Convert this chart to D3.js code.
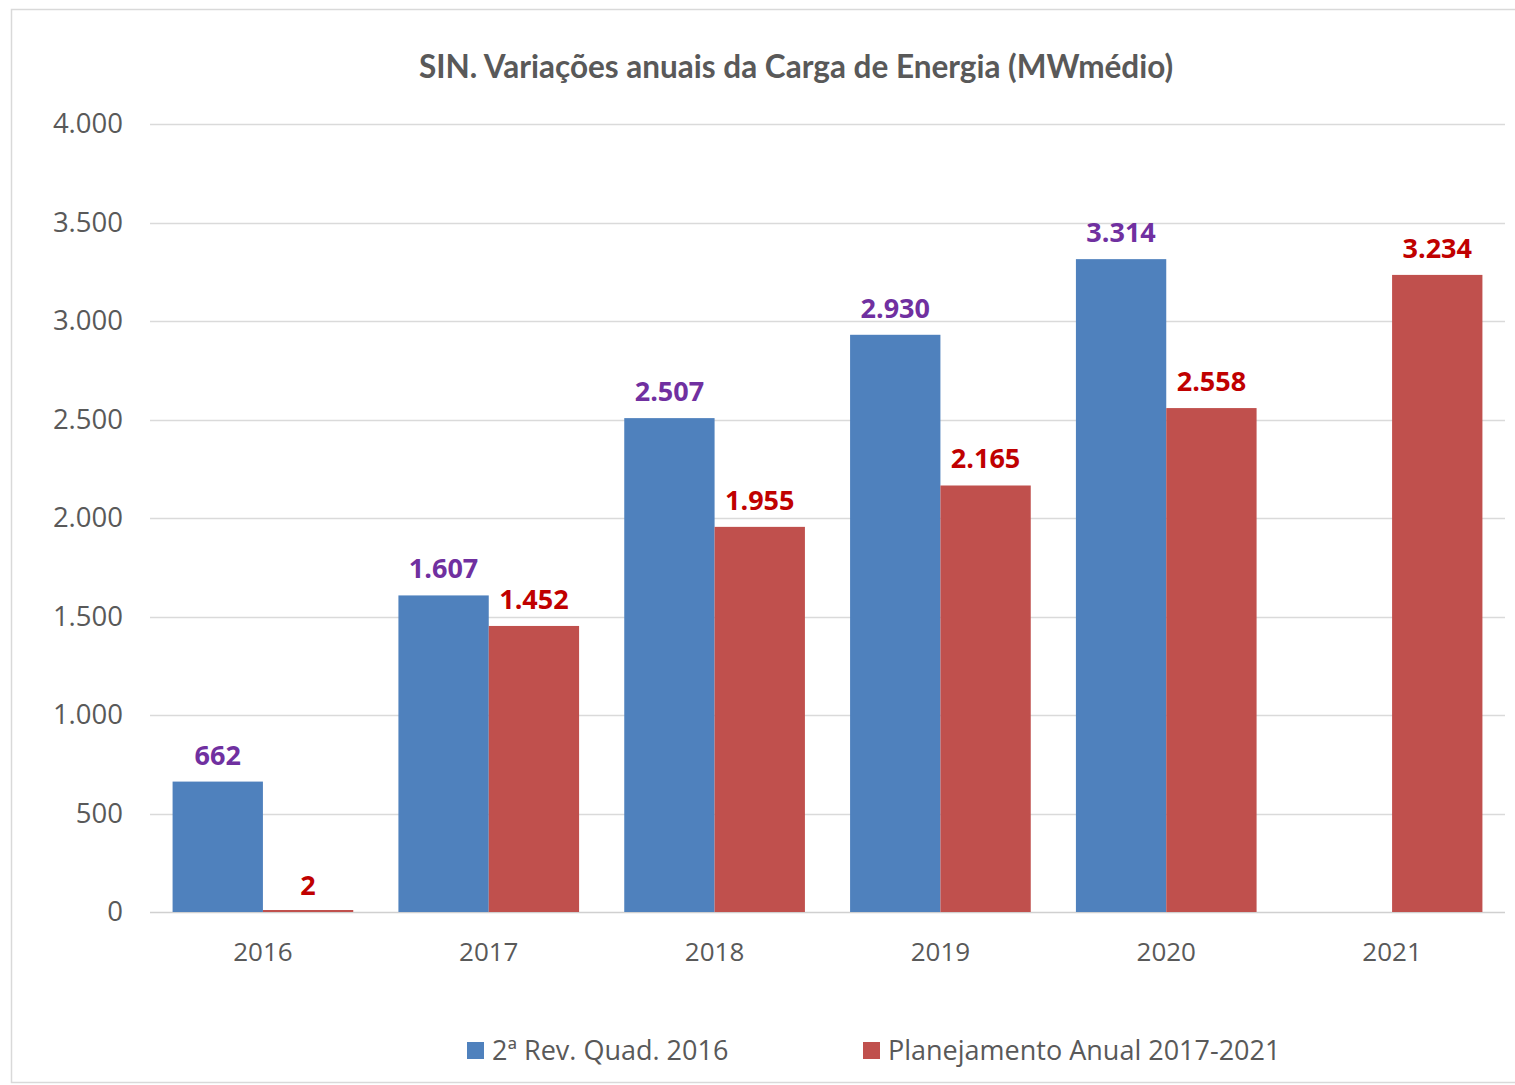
<!DOCTYPE html>
<html>
<head>
<meta charset="utf-8">
<script src="https://cdn.jsdelivr.net/npm/d3@7"></script>
<style>
  html, body { margin: 0; padding: 0; background: #fff; }
  svg { display: block; }
</style>
</head>
<body>
<div id="chart"></div>
<script>
// dados
var years = ['2016', '2017', '2018', '2019', '2020', '2021'];
var revQuad = [662, 1607, 2507, 2930, 3314, null];
var planAnual = [2, 1452, 1955, 2165, 2558, 3234];
var seriesNames = ['2ª Rev. Quad. 2016', 'Planejamento Anual 2017-2021'];
var yTicks = [0, 500, 1000, 1500, 2000, 2500, 3000, 3500, 4000];

var W = 1515, H = 1085;
var barColors = ['#4F81BD', '#C0504D'];
var labelColors = ['#7030A0', '#C00000'];
var textGrey = '#595959';

var ptBR = d3.formatLocale({decimal: ',', thousands: '.', grouping: [3], currency: ['R$', '']});
var fmt = ptBR.format(',d');

var svg = d3.select('#chart').append('svg')
    .attr('width', W).attr('height', H);

// moldura
svg.append('rect')
    .attr('x', 11.5).attr('y', 9.5)
    .attr('width', W + 10).attr('height', 1073)
    .attr('fill', '#fff').attr('stroke', '#D9D9D9').attr('stroke-width', 1.5);

var x = d3.scaleBand().domain(years).range([150, 1505]).paddingInner(0.2).paddingOuter(0.1);
var xs = d3.scaleBand().domain([0, 1]).range([0, x.bandwidth()]);
var y = d3.scaleLinear().domain([0, 4000]).range([912, 124]);

// grade
svg.append('g').selectAll('line').data(yTicks).join('line')
    .attr('x1', 150).attr('x2', 1505)
    .attr('y1', function(d){ return Math.round(y(d)) + 0.5; })
    .attr('y2', function(d){ return Math.round(y(d)) + 0.5; })
    .attr('stroke', function(d){ return d === 0 ? '#D0D0D0' : '#DADADA'; })
    .attr('stroke-width', 1.3);

// eixo y
var yAxis = svg.append('g').attr('transform', 'translate(123,0)')
    .call(d3.axisLeft(y).tickValues(yTicks).tickFormat(fmt).tickSize(0).tickPadding(0));
yAxis.select('.domain').remove();
yAxis.selectAll('text')
    .attr('font-family', 'Open Sans, sans-serif').attr('font-size', 27.5)
    .attr('fill', textGrey);

// eixo x
var xAxis = svg.append('g').attr('transform', 'translate(0,943)')
    .call(d3.axisBottom(x).tickSize(0).tickPadding(0));
xAxis.select('.domain').remove();
xAxis.selectAll('text')
    .attr('font-family', 'Open Sans, sans-serif').attr('font-size', 26)
    .attr('fill', textGrey);

var series = [revQuad, planAnual];

series.forEach(function(vals, si){
    var pts = years.map(function(yr, i){ return {year: yr, v: vals[i]}; })
        .filter(function(d){ return d.v != null; });
    var g = svg.append('g');
    g.selectAll('rect').data(pts).join('rect')
        .attr('x', function(d){ return x(d.year) + xs(si); })
        .attr('width', xs.bandwidth())
        .attr('y', function(d){ return Math.min(y(d.v), y(0) - 2); })
        .attr('height', function(d){ return Math.max(y(0) - y(d.v), 2); })
        .attr('fill', barColors[si]);
    g.selectAll('text').data(pts).join('text')
        .attr('x', function(d){ return x(d.year) + xs(si) + xs.bandwidth() / 2; })
        .attr('y', function(d){ return y(d.v) - 17; })
        .attr('text-anchor', 'middle')
        .attr('font-family', 'Open Sans, sans-serif').attr('font-weight', 'bold')
        .attr('font-size', 27)
        .attr('fill', labelColors[si])
        .text(function(d){ return fmt(d.v); });
});

// título
svg.append('text')
    .attr('x', 796).attr('y', 78)
    .attr('text-anchor', 'middle')
    .attr('font-family', 'Lato, sans-serif').attr('font-weight', 'bold')
    .attr('font-size', 31.5)
    .attr('fill', textGrey)
    .text('SIN. Variações anuais da Carga de Energia (MWmédio)');

// legenda
var legX = [467, 863];
var leg = svg.append('g').selectAll('g').data(seriesNames).join('g')
    .attr('transform', function(d, i){ return 'translate(' + legX[i] + ',1042)'; });
leg.append('rect').attr('width', 17).attr('height', 17)
    .attr('fill', function(d, i){ return barColors[i]; });
leg.append('text').attr('x', 25).attr('y', 18)
    .attr('font-family', 'Open Sans, sans-serif').attr('font-size', 27)
    .attr('fill', textGrey)
    .text(function(d){ return d; });
</script>
</body>
</html>
